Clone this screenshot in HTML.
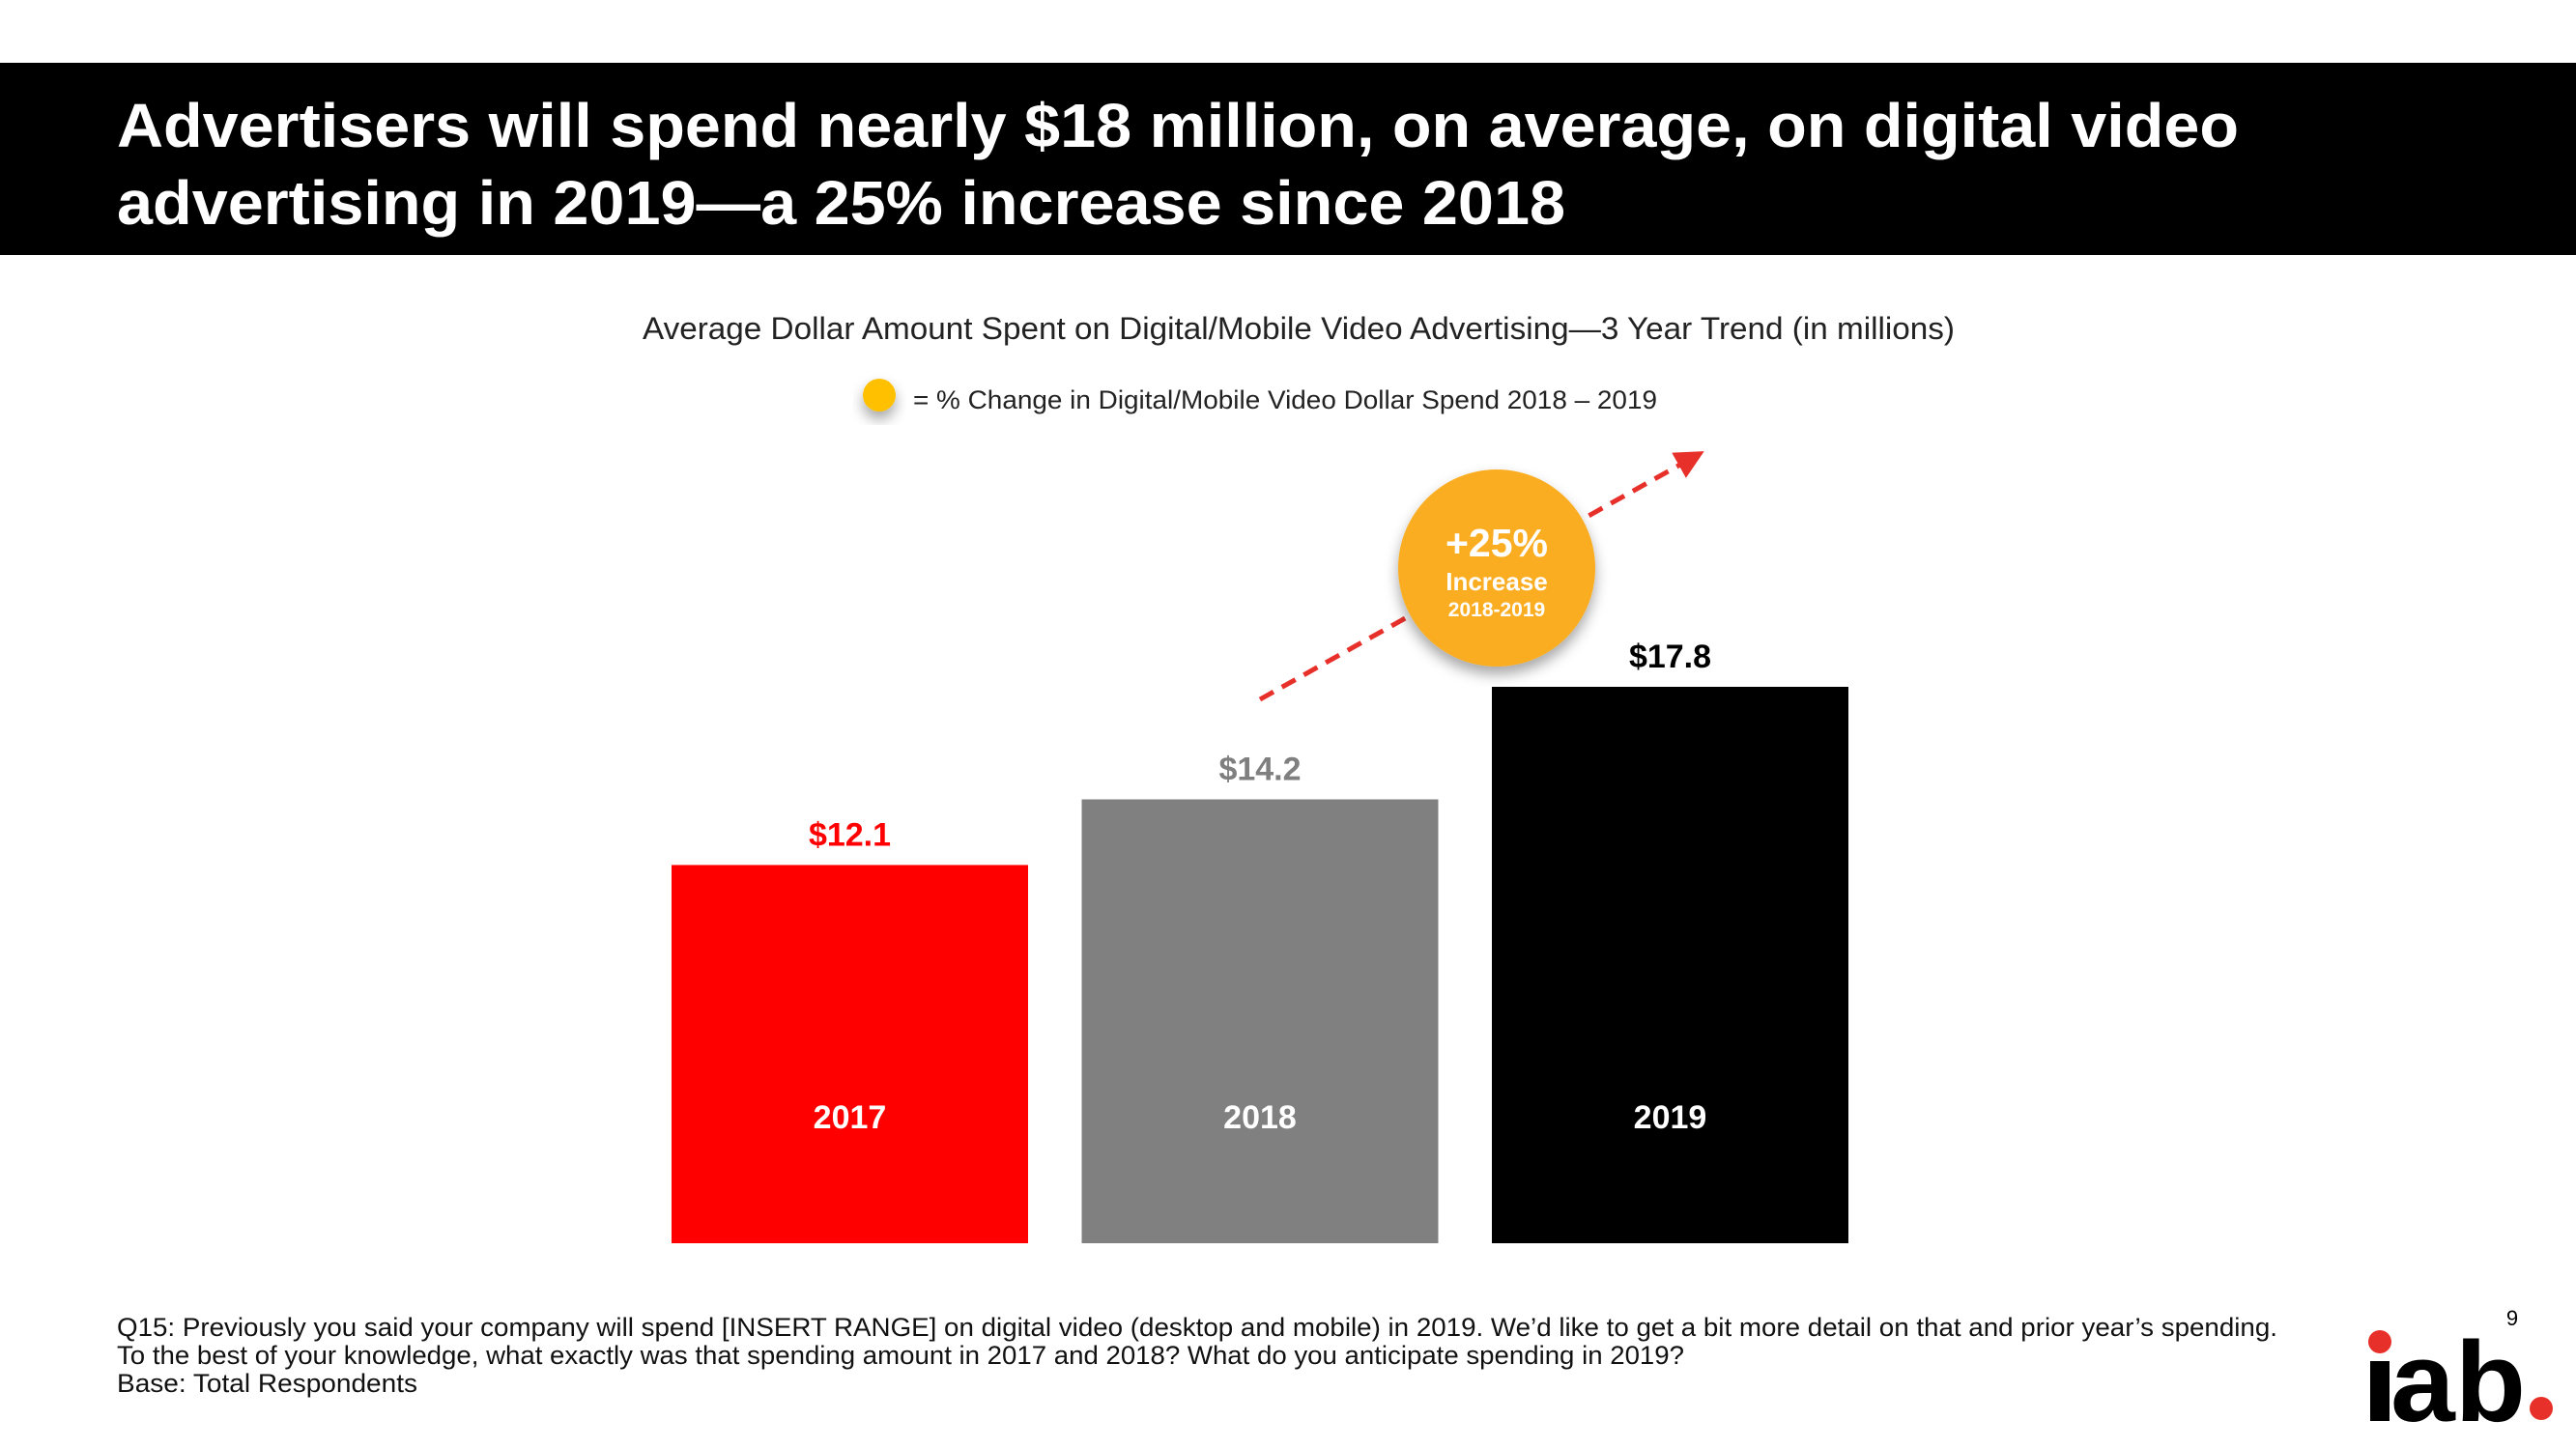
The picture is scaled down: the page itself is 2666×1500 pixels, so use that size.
<!DOCTYPE html>
<html><head><meta charset="utf-8"><style>
html,body{margin:0;padding:0;background:#fff;width:2666px;height:1500px;overflow:hidden;font-family:"Liberation Sans",sans-serif}
</style></head><body>
<svg width="2666" height="1500" viewBox="0 0 2666 1500" xmlns="http://www.w3.org/2000/svg" font-family="Liberation Sans, sans-serif">
<defs>
<filter id="sh" x="-30%" y="-30%" width="160%" height="170%"><feDropShadow dx="0" dy="8" stdDeviation="7" flood-color="#000" flood-opacity="0.35"/></filter>
<marker id="ah" markerWidth="6" markerHeight="6" refX="4" refY="3" orient="auto" markerUnits="strokeWidth"><path d="M0,0 L6,3 L0,6 z" fill="#e8302a"/></marker>
</defs>
<rect x="0" y="65" width="2666" height="199" fill="#000"/>
<text fill="#fff" font-weight="bold" font-size="64">
<tspan x="121" y="152" textLength="2196" lengthAdjust="spacingAndGlyphs">Advertisers will spend nearly $18 million, on average, on digital video</tspan>
<tspan x="121" y="232" textLength="1499" lengthAdjust="spacingAndGlyphs">advertising in 2019—a 25% increase since 2018</tspan></text>
<text x="665" y="351" font-size="32" fill="#222" textLength="1358" lengthAdjust="spacingAndGlyphs">Average Dollar Amount Spent on Digital/Mobile Video Advertising—3 Year Trend (in millions)</text>
<circle cx="910" cy="409" r="17" fill="#ffc000" filter="url(#sh)"/>
<text x="945" y="423" font-size="27" fill="#222" textLength="770" lengthAdjust="spacingAndGlyphs">= % Change in Digital/Mobile Video Dollar Spend  2018 – 2019</text>
<g id="bars"></g>
<line x1="1304" y1="724" x2="1755" y2="472" stroke="#e8302a" stroke-width="5" stroke-dasharray="16,10" marker-end="url(#ah)"/>
<g>
<circle cx="1549" cy="588" r="102" fill="#fbad22" filter="url(#sh)"/>
<text x="1549" y="576" font-size="41" font-weight="bold" fill="#fff" text-anchor="middle">+25%</text>
<text x="1549" y="611" font-size="26" font-weight="bold" fill="#fff" text-anchor="middle">Increase</text>
<text x="1549" y="638" font-size="21" font-weight="bold" fill="#fff" text-anchor="middle">2018-2019</text>
</g>
<text font-size="27" fill="#111">
<tspan x="121" y="1383" textLength="2236" lengthAdjust="spacingAndGlyphs">Q15: Previously you said your company will spend [INSERT RANGE] on digital video (desktop and mobile) in 2019.  We’d like to get a bit more detail on that and prior year’s spending.</tspan>
<tspan x="121" y="1412" textLength="1622" lengthAdjust="spacingAndGlyphs">To the best of your knowledge, what exactly was that spending amount in 2017 and 2018? What do you anticipate spending in 2019?</tspan>
<tspan x="121" y="1441" textLength="311" lengthAdjust="spacingAndGlyphs">Base: Total Respondents</tspan></text>
<text x="2600" y="1372" font-size="22" fill="#000" text-anchor="middle">9</text>
<g>
<circle cx="2463" cy="1389" r="12" fill="#e8302a"/>
<rect x="2453" y="1409" width="20" height="62" fill="#000"/>
<text x="2474" y="1471" font-size="118" font-weight="bold" fill="#000" textLength="140" lengthAdjust="spacingAndGlyphs">ab</text>
<circle cx="2630" cy="1458" r="12" fill="#e8302a"/>
</g>
</svg>
<script>
const categories = ["2017", "2018", "2019"];
const values = [12.1, 14.2, 17.8];
const valueLabels = ["$12.1", "$14.2", "$17.8"];
const colors = ["#ff0000", "#808080", "#000000"];
const labelColors = ["#ff0000", "#7f7f7f", "#000000"];
const NS = "http://www.w3.org/2000/svg";
const baseY = 1287, pxPerUnit = 32.36, x0 = 695, step = 424.5, bw = 369;
function yScale(v){ return baseY - v * pxPerUnit; }
function xScale(i){ return x0 + i * step; }
const g = document.getElementById('bars');
categories.forEach((c, i) => {
  const top = yScale(values[i]);
  const r = document.createElementNS(NS, 'rect');
  
  
  r.setAttribute('x', xScale(i)); r.setAttribute('y', top);
  r.setAttribute('width', bw); r.setAttribute('height', baseY - top);
  r.setAttribute('fill', colors[i]);
  g.appendChild(r);
  const v = document.createElementNS(NS, 'text');
  
  
  v.setAttribute('x', xScale(i) + bw / 2); v.setAttribute('y', top - 20);
  v.setAttribute('text-anchor', 'middle'); v.setAttribute('font-size', '34');
  v.setAttribute('font-weight', 'bold'); v.setAttribute('fill', labelColors[i]);
  v.textContent = valueLabels[i];
  g.appendChild(v);
  const t = document.createElementNS(NS, 'text');
  
  
  t.setAttribute('x', xScale(i) + bw / 2); t.setAttribute('y', 1168);
  t.setAttribute('text-anchor', 'middle'); t.setAttribute('font-size', '34');
  t.setAttribute('font-weight', 'bold'); t.setAttribute('fill', '#fff');
  t.textContent = c;
  g.appendChild(t);
});
</script>
</body></html>
